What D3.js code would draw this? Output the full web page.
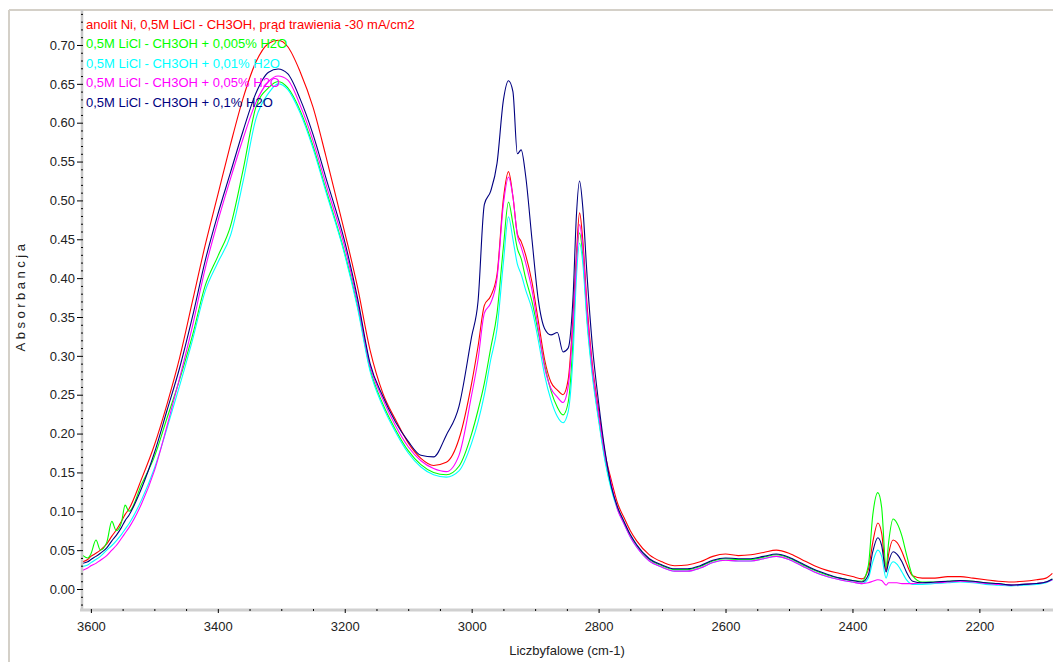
<!DOCTYPE html>
<html><head><meta charset="utf-8">
<script src="https://cdn.jsdelivr.net/npm/d3@7"></script>
<style>
body{margin:0;background:#fff;}
svg{display:block;font-family:"Liberation Sans",Arial,sans-serif;}
</style>
</head><body><svg id="c" width="1053" height="662"></svg>
<script>
const wavenumbers = [3614,3605,3600,3592,3585,3575,3567,3560,3552,3546,3540,
 3520,3500,3480,3460,3440,3420,3400,3380,3360,
 3340,3320,3305,3290,3270,3250,3230,3200,3180,3160,
 3140,3120,3100,3080,3060,3040,3020,3000,2990,2980,
 2970,2960,2950,2942,2935,2928,2922,2915,2905,2895,
 2885,2875,2865,2856,2848,2840,2835,2830,2825,2818,
 2810,2800,2790,2780,2770,2760,2750,2740,2720,2700,
 2680,2660,2640,2620,2600,2580,2560,2540,2520,2500,
 2480,2460,2440,2420,2400,2385,2375,2368,2360,2354,
 2347,2343,2336,2330,2322,2315,2305,2290,2270,2250,
 2230,2210,2190,2170,2150,2130,2110,2095,2085];

const anolit = [0.035,0.038,0.042,0.046,0.050,0.058,0.068,0.076,0.087,0.096,0.103,
 0.142,0.185,0.238,0.298,0.370,0.442,0.507,0.572,0.632,
 0.678,0.702,0.706,0.698,0.665,0.620,0.558,0.459,0.389,0.307,
 0.252,0.218,0.188,0.168,0.159,0.163,0.193,0.265,0.312,0.365,
 0.377,0.405,0.502,0.537,0.505,0.457,0.447,0.430,0.395,0.345,
 0.295,0.266,0.256,0.250,0.269,0.355,0.430,0.484,0.450,0.363,
 0.290,0.230,0.175,0.140,0.110,0.092,0.075,0.062,0.044,0.035,
 0.030,0.031,0.035,0.042,0.045,0.043,0.044,0.047,0.050,0.046,
 0.038,0.030,0.024,0.020,0.016,0.013,0.025,0.060,0.085,0.072,
 0.024,0.045,0.063,0.060,0.048,0.033,0.017,0.014,0.014,0.016,
 0.016,0.014,0.012,0.010,0.009,0.010,0.012,0.014,0.020];

const h2o005 = [0.044,0.040,0.045,0.063,0.050,0.060,0.087,0.075,0.085,0.108,0.100,
 0.135,0.170,0.220,0.270,0.326,0.390,0.428,0.467,0.540,
 0.620,0.645,0.653,0.645,0.615,0.570,0.515,0.432,0.365,0.283,
 0.238,0.205,0.178,0.160,0.150,0.147,0.158,0.200,0.230,0.265,
 0.310,0.355,0.440,0.498,0.470,0.438,0.425,0.400,0.370,0.330,
 0.288,0.255,0.234,0.224,0.240,0.325,0.420,0.458,0.430,0.346,
 0.280,0.220,0.168,0.130,0.104,0.086,0.069,0.056,0.038,0.030,
 0.025,0.025,0.029,0.036,0.039,0.038,0.038,0.041,0.044,0.040,
 0.032,0.024,0.018,0.014,0.011,0.010,0.030,0.095,0.124,0.105,
 0.028,0.060,0.090,0.085,0.068,0.045,0.017,0.009,0.009,0.010,
 0.011,0.010,0.008,0.007,0.005,0.006,0.007,0.009,0.013];

const h2o01 = [0.029,0.031,0.034,0.038,0.042,0.050,0.056,0.062,0.070,0.077,0.084,
 0.115,0.155,0.207,0.262,0.320,0.383,0.420,0.455,0.525,
 0.605,0.638,0.650,0.643,0.612,0.567,0.512,0.430,0.362,0.280,
 0.235,0.202,0.175,0.157,0.147,0.144,0.152,0.188,0.215,0.250,
 0.295,0.335,0.420,0.479,0.450,0.418,0.405,0.385,0.360,0.320,
 0.275,0.243,0.222,0.214,0.228,0.305,0.400,0.445,0.420,0.340,
 0.275,0.217,0.165,0.128,0.102,0.084,0.067,0.054,0.036,0.028,
 0.023,0.023,0.027,0.034,0.037,0.036,0.036,0.039,0.042,0.038,
 0.030,0.022,0.016,0.012,0.009,0.007,0.014,0.035,0.050,0.042,
 0.014,0.025,0.035,0.032,0.022,0.012,0.006,0.006,0.007,0.008,
 0.009,0.008,0.006,0.005,0.004,0.005,0.006,0.008,0.012];

const h2o05 = [0.024,0.027,0.030,0.033,0.037,0.043,0.050,0.056,0.065,0.072,0.079,
 0.110,0.152,0.210,0.272,0.338,0.412,0.473,0.528,0.580,
 0.626,0.653,0.660,0.655,0.622,0.577,0.522,0.440,0.370,0.287,
 0.244,0.210,0.183,0.165,0.155,0.151,0.172,0.250,0.295,0.355,
 0.368,0.400,0.495,0.530,0.505,0.455,0.440,0.420,0.385,0.335,
 0.285,0.258,0.247,0.240,0.260,0.345,0.420,0.469,0.440,0.355,
 0.285,0.225,0.172,0.135,0.102,0.084,0.067,0.054,0.036,0.028,
 0.023,0.023,0.027,0.034,0.037,0.036,0.036,0.039,0.042,0.038,
 0.030,0.022,0.016,0.012,0.009,0.007,0.008,0.010,0.012,0.011,
 0.005,0.008,0.008,0.008,0.007,0.007,0.007,0.008,0.008,0.009,
 0.010,0.009,0.007,0.006,0.005,0.006,0.007,0.009,0.012];

const h2o1 = [0.033,0.035,0.038,0.042,0.046,0.053,0.062,0.069,0.079,0.088,0.095,
 0.130,0.175,0.230,0.285,0.350,0.422,0.482,0.536,0.590,
 0.638,0.665,0.669,0.663,0.630,0.585,0.530,0.447,0.375,0.290,
 0.248,0.215,0.190,0.172,0.170,0.198,0.235,0.325,0.370,0.495,
 0.512,0.548,0.629,0.654,0.640,0.560,0.565,0.532,0.450,0.372,
 0.335,0.327,0.330,0.305,0.310,0.380,0.480,0.525,0.492,0.401,
 0.315,0.240,0.178,0.132,0.105,0.087,0.070,0.057,0.039,0.031,
 0.026,0.026,0.030,0.037,0.040,0.039,0.039,0.042,0.045,0.041,
 0.033,0.025,0.019,0.014,0.011,0.009,0.018,0.048,0.066,0.056,
 0.022,0.035,0.048,0.045,0.035,0.022,0.010,0.008,0.009,0.010,
 0.011,0.010,0.008,0.007,0.005,0.006,0.007,0.009,0.013];

const seriesNames = [
 "anolit Ni, 0,5M LiCl - CH3OH, prąd trawienia -30 mA/cm2",
 "0,5M LiCl - CH3OH + 0,005% H2O",
 "0,5M LiCl - CH3OH + 0,01% H2O",
 "0,5M LiCl - CH3OH + 0,05% H2O",
 "0,5M LiCl - CH3OH + 0,1% H2O"];
const seriesColors = ["#ff0000","#00ff00","#00ffff","#ff00ff","#000080"];
const seriesValues = [anolit, h2o005, h2o01, h2o05, h2o1];

const xTicks = [3600,3400,3200,3000,2800,2600,2400,2200];
const yTicks = [0.00,0.05,0.10,0.15,0.20,0.25,0.30,0.35,0.40,0.45,0.50,0.55,0.60,0.65,0.70];

const svg = d3.select("#c");
const x = d3.scaleLinear().domain([3614, 2084]).range([82, 1053]);
const y = d3.scaleLinear().domain([-0.027, 0.745]).range([610, 10]);

// outer frame
svg.append("line").attr("x1",9).attr("x2",1053).attr("y1",10).attr("y2",10)
  .attr("stroke","#d4d0c8").attr("stroke-width",2);
svg.append("line").attr("x1",9).attr("x2",9).attr("y1",10).attr("y2",662)
  .attr("stroke","#d4d0c8").attr("stroke-width",2);

svg.append("clipPath").attr("id","clip").append("rect")
  .attr("x",83).attr("y",10).attr("width",970).attr("height",599);

const line = d3.line().x((d,i)=>x(wavenumbers[i])).y(d=>y(d)).curve(d3.curveMonotoneX);
const plot = svg.append("g").attr("clip-path","url(#clip)");
seriesValues.forEach((vals,k)=>{
  plot.append("path").datum(vals).attr("d",line).attr("fill","none")
    .attr("stroke",seriesColors[k]).attr("stroke-width",1.1);
});

// axis bars
svg.append("line").attr("x1",82).attr("x2",82).attr("y1",10).attr("y2",611)
  .attr("stroke","#c8c8c8").attr("stroke-width",2.5);
svg.append("line").attr("x1",80).attr("x2",1053).attr("y1",610).attr("y2",610)
  .attr("stroke","#d0d0d0").attr("stroke-width",3);

// y axis
const yMinor = d3.range(-2, 75).map(v=>v/100).filter(v=>Math.round(v*100)%5!==0);
const gyMinor = svg.append("g").attr("transform","translate(83,0)")
  .call(d3.axisLeft(y).tickValues(yMinor).tickSize(2).tickFormat(""));
const gy = svg.append("g").attr("transform","translate(83,0)")
  .call(d3.axisLeft(y).tickValues(yTicks).tickSize(6).tickPadding(2).tickFormat(d3.format(".2f")));
[gy, gyMinor].forEach(g=>{g.select(".domain").remove();
  g.selectAll("line").attr("stroke","#000");});
gy.selectAll("text").attr("font-size",13).attr("fill","#222")
  .attr("font-family","'Liberation Sans',Arial,sans-serif");

// x axis
const xMinor = d3.range(2100, 3650, 50).filter(v=>v%200!==0);
const gxMinor = svg.append("g").attr("transform","translate(0,609)")
  .call(d3.axisBottom(x).tickValues(xMinor).tickSize(2).tickFormat(""));
const gx = svg.append("g").attr("transform","translate(0,609)")
  .call(d3.axisBottom(x).tickValues(xTicks).tickSize(4).tickPadding(9).tickFormat(d3.format("d")));
[gx, gxMinor].forEach(g=>{g.select(".domain").remove();
  g.selectAll("line").attr("stroke","#000");});
gx.selectAll("text").attr("font-size",13).attr("fill","#222")
  .attr("font-family","'Liberation Sans',Arial,sans-serif");

// titles
svg.append("text").attr("x",567).attr("y",655).attr("text-anchor","middle")
  .attr("font-size",13).attr("fill","#222").text("Liczbyfalowe (cm-1)");
svg.append("text").attr("transform","translate(25,296) rotate(-90)")
  .attr("text-anchor","middle").attr("font-size",13).attr("fill","#222")
  .attr("letter-spacing",3.5).text("Absorbancja");

// legend
const legendY = [24, 43.5, 63, 82.5, 102];
seriesNames.forEach((n,k)=>{
  svg.append("text").attr("x",86).attr("y",legendY[k]).attr("dy","0.35em")
    .attr("font-size",13).attr("fill",seriesColors[k]).text(n);
});
</script>
</body></html>
